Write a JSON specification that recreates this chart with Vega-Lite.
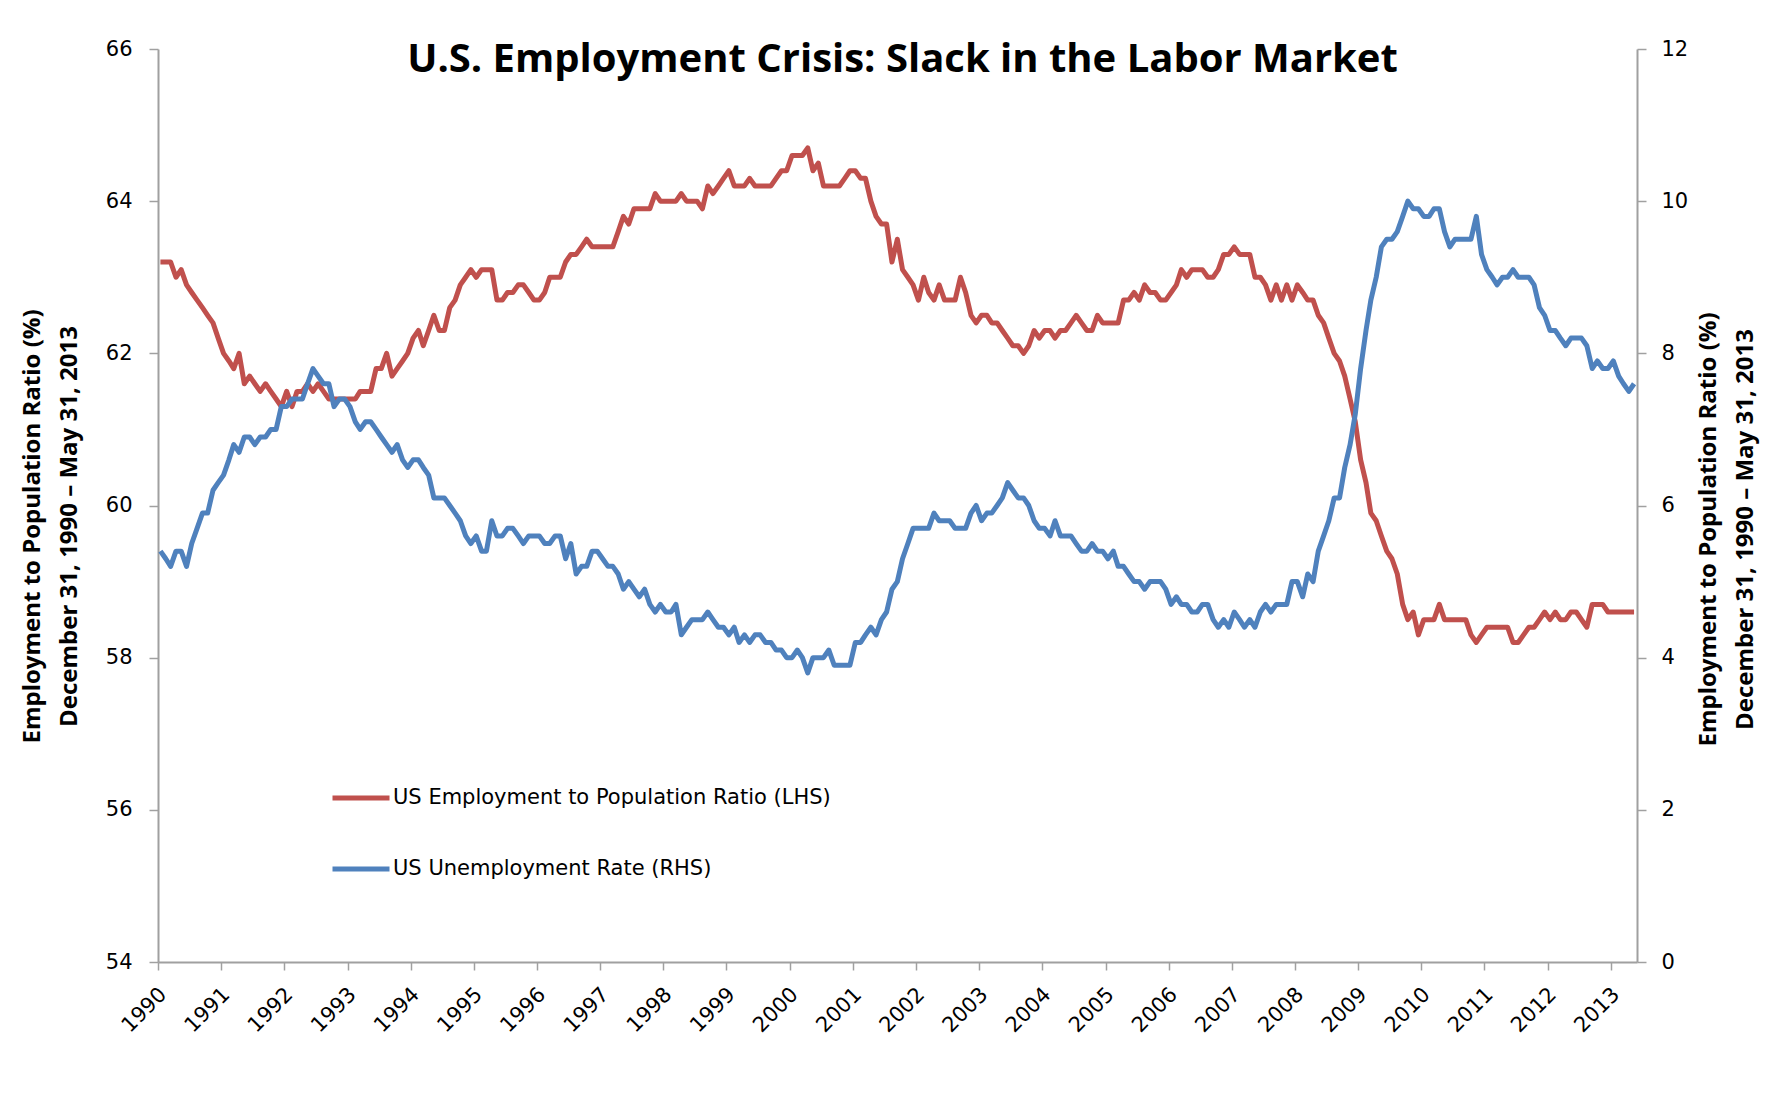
{
  "$schema": "https://vega.github.io/schema/vega-lite/v6.json",
  "autosize": {"type": "none"},
  "width": 1479,
  "height": 913,
  "padding": {"left": 158, "top": 49, "right": 155, "bottom": 140},
  "background": "white",
  "config": {"view": {"stroke": null}, "font": "DejaVu Sans"},
  "title": {
    "text": "U.S. Employment Crisis: Slack in the Labor Market",
    "font": "Open Sans", "fontSize": 40, "fontWeight": "bold", "color": "#000000",
    "anchor": "middle", "frame": "group", "baseline": "middle", "offset": 0, "dy": 62, "dx": 5
  },
  "data": {"values": [
{"d":"1990-01-15","e":63.2,"u":5.4},{"d":"1990-02-15","e":63.2,"u":5.3},{"d":"1990-03-15","e":63.2,"u":5.2},{"d":"1990-04-15","e":63.0,"u":5.4},{"d":"1990-05-15","e":63.1,"u":5.4},{"d":"1990-06-15","e":62.9,"u":5.2},{"d":"1990-07-15","e":62.8,"u":5.5},{"d":"1990-08-15","e":62.7,"u":5.7},{"d":"1990-09-15","e":62.6,"u":5.9},{"d":"1990-10-15","e":62.5,"u":5.9},{"d":"1990-11-15","e":62.4,"u":6.2},{"d":"1990-12-15","e":62.2,"u":6.3},
{"d":"1991-01-15","e":62.0,"u":6.4},{"d":"1991-02-15","e":61.9,"u":6.6},{"d":"1991-03-15","e":61.8,"u":6.8},{"d":"1991-04-15","e":62.0,"u":6.7},{"d":"1991-05-15","e":61.6,"u":6.9},{"d":"1991-06-15","e":61.7,"u":6.9},{"d":"1991-07-15","e":61.6,"u":6.8},{"d":"1991-08-15","e":61.5,"u":6.9},{"d":"1991-09-15","e":61.6,"u":6.9},{"d":"1991-10-15","e":61.5,"u":7.0},{"d":"1991-11-15","e":61.4,"u":7.0},{"d":"1991-12-15","e":61.3,"u":7.3},
{"d":"1992-01-15","e":61.5,"u":7.3},{"d":"1992-02-15","e":61.3,"u":7.4},{"d":"1992-03-15","e":61.5,"u":7.4},{"d":"1992-04-15","e":61.5,"u":7.4},{"d":"1992-05-15","e":61.6,"u":7.6},{"d":"1992-06-15","e":61.5,"u":7.8},{"d":"1992-07-15","e":61.6,"u":7.7},{"d":"1992-08-15","e":61.5,"u":7.6},{"d":"1992-09-15","e":61.4,"u":7.6},{"d":"1992-10-15","e":61.4,"u":7.3},{"d":"1992-11-15","e":61.4,"u":7.4},{"d":"1992-12-15","e":61.4,"u":7.4},
{"d":"1993-01-15","e":61.4,"u":7.3},{"d":"1993-02-15","e":61.4,"u":7.1},{"d":"1993-03-15","e":61.5,"u":7.0},{"d":"1993-04-15","e":61.5,"u":7.1},{"d":"1993-05-15","e":61.5,"u":7.1},{"d":"1993-06-15","e":61.8,"u":7.0},{"d":"1993-07-15","e":61.8,"u":6.9},{"d":"1993-08-15","e":62.0,"u":6.8},{"d":"1993-09-15","e":61.7,"u":6.7},{"d":"1993-10-15","e":61.8,"u":6.8},{"d":"1993-11-15","e":61.9,"u":6.6},{"d":"1993-12-15","e":62.0,"u":6.5},
{"d":"1994-01-15","e":62.2,"u":6.6},{"d":"1994-02-15","e":62.3,"u":6.6},{"d":"1994-03-15","e":62.1,"u":6.5},{"d":"1994-04-15","e":62.3,"u":6.4},{"d":"1994-05-15","e":62.5,"u":6.1},{"d":"1994-06-15","e":62.3,"u":6.1},{"d":"1994-07-15","e":62.3,"u":6.1},{"d":"1994-08-15","e":62.6,"u":6.0},{"d":"1994-09-15","e":62.7,"u":5.9},{"d":"1994-10-15","e":62.9,"u":5.8},{"d":"1994-11-15","e":63.0,"u":5.6},{"d":"1994-12-15","e":63.1,"u":5.5},
{"d":"1995-01-15","e":63.0,"u":5.6},{"d":"1995-02-15","e":63.1,"u":5.4},{"d":"1995-03-15","e":63.1,"u":5.4},{"d":"1995-04-15","e":63.1,"u":5.8},{"d":"1995-05-15","e":62.7,"u":5.6},{"d":"1995-06-15","e":62.7,"u":5.6},{"d":"1995-07-15","e":62.8,"u":5.7},{"d":"1995-08-15","e":62.8,"u":5.7},{"d":"1995-09-15","e":62.9,"u":5.6},{"d":"1995-10-15","e":62.9,"u":5.5},{"d":"1995-11-15","e":62.8,"u":5.6},{"d":"1995-12-15","e":62.7,"u":5.6},
{"d":"1996-01-15","e":62.7,"u":5.6},{"d":"1996-02-15","e":62.8,"u":5.5},{"d":"1996-03-15","e":63.0,"u":5.5},{"d":"1996-04-15","e":63.0,"u":5.6},{"d":"1996-05-15","e":63.0,"u":5.6},{"d":"1996-06-15","e":63.2,"u":5.3},{"d":"1996-07-15","e":63.3,"u":5.5},{"d":"1996-08-15","e":63.3,"u":5.1},{"d":"1996-09-15","e":63.4,"u":5.2},{"d":"1996-10-15","e":63.5,"u":5.2},{"d":"1996-11-15","e":63.4,"u":5.4},{"d":"1996-12-15","e":63.4,"u":5.4},
{"d":"1997-01-15","e":63.4,"u":5.3},{"d":"1997-02-15","e":63.4,"u":5.2},{"d":"1997-03-15","e":63.4,"u":5.2},{"d":"1997-04-15","e":63.6,"u":5.1},{"d":"1997-05-15","e":63.8,"u":4.9},{"d":"1997-06-15","e":63.7,"u":5.0},{"d":"1997-07-15","e":63.9,"u":4.9},{"d":"1997-08-15","e":63.9,"u":4.8},{"d":"1997-09-15","e":63.9,"u":4.9},{"d":"1997-10-15","e":63.9,"u":4.7},{"d":"1997-11-15","e":64.1,"u":4.6},{"d":"1997-12-15","e":64.0,"u":4.7},
{"d":"1998-01-15","e":64.0,"u":4.6},{"d":"1998-02-15","e":64.0,"u":4.6},{"d":"1998-03-15","e":64.0,"u":4.7},{"d":"1998-04-15","e":64.1,"u":4.3},{"d":"1998-05-15","e":64.0,"u":4.4},{"d":"1998-06-15","e":64.0,"u":4.5},{"d":"1998-07-15","e":64.0,"u":4.5},{"d":"1998-08-15","e":63.9,"u":4.5},{"d":"1998-09-15","e":64.2,"u":4.6},{"d":"1998-10-15","e":64.1,"u":4.5},{"d":"1998-11-15","e":64.2,"u":4.4},{"d":"1998-12-15","e":64.3,"u":4.4},
{"d":"1999-01-15","e":64.4,"u":4.3},{"d":"1999-02-15","e":64.2,"u":4.4},{"d":"1999-03-15","e":64.2,"u":4.2},{"d":"1999-04-15","e":64.2,"u":4.3},{"d":"1999-05-15","e":64.3,"u":4.2},{"d":"1999-06-15","e":64.2,"u":4.3},{"d":"1999-07-15","e":64.2,"u":4.3},{"d":"1999-08-15","e":64.2,"u":4.2},{"d":"1999-09-15","e":64.2,"u":4.2},{"d":"1999-10-15","e":64.3,"u":4.1},{"d":"1999-11-15","e":64.4,"u":4.1},{"d":"1999-12-15","e":64.4,"u":4.0},
{"d":"2000-01-15","e":64.6,"u":4.0},{"d":"2000-02-15","e":64.6,"u":4.1},{"d":"2000-03-15","e":64.6,"u":4.0},{"d":"2000-04-15","e":64.7,"u":3.8},{"d":"2000-05-15","e":64.4,"u":4.0},{"d":"2000-06-15","e":64.5,"u":4.0},{"d":"2000-07-15","e":64.2,"u":4.0},{"d":"2000-08-15","e":64.2,"u":4.1},{"d":"2000-09-15","e":64.2,"u":3.9},{"d":"2000-10-15","e":64.2,"u":3.9},{"d":"2000-11-15","e":64.3,"u":3.9},{"d":"2000-12-15","e":64.4,"u":3.9},
{"d":"2001-01-15","e":64.4,"u":4.2},{"d":"2001-02-15","e":64.3,"u":4.2},{"d":"2001-03-15","e":64.3,"u":4.3},{"d":"2001-04-15","e":64.0,"u":4.4},{"d":"2001-05-15","e":63.8,"u":4.3},{"d":"2001-06-15","e":63.7,"u":4.5},{"d":"2001-07-15","e":63.7,"u":4.6},{"d":"2001-08-15","e":63.2,"u":4.9},{"d":"2001-09-15","e":63.5,"u":5.0},{"d":"2001-10-15","e":63.1,"u":5.3},{"d":"2001-11-15","e":63.0,"u":5.5},{"d":"2001-12-15","e":62.9,"u":5.7},
{"d":"2002-01-15","e":62.7,"u":5.7},{"d":"2002-02-15","e":63.0,"u":5.7},{"d":"2002-03-15","e":62.8,"u":5.7},{"d":"2002-04-15","e":62.7,"u":5.9},{"d":"2002-05-15","e":62.9,"u":5.8},{"d":"2002-06-15","e":62.7,"u":5.8},{"d":"2002-07-15","e":62.7,"u":5.8},{"d":"2002-08-15","e":62.7,"u":5.7},{"d":"2002-09-15","e":63.0,"u":5.7},{"d":"2002-10-15","e":62.8,"u":5.7},{"d":"2002-11-15","e":62.5,"u":5.9},{"d":"2002-12-15","e":62.4,"u":6.0},
{"d":"2003-01-15","e":62.5,"u":5.8},{"d":"2003-02-15","e":62.5,"u":5.9},{"d":"2003-03-15","e":62.4,"u":5.9},{"d":"2003-04-15","e":62.4,"u":6.0},{"d":"2003-05-15","e":62.3,"u":6.1},{"d":"2003-06-15","e":62.2,"u":6.3},{"d":"2003-07-15","e":62.1,"u":6.2},{"d":"2003-08-15","e":62.1,"u":6.1},{"d":"2003-09-15","e":62.0,"u":6.1},{"d":"2003-10-15","e":62.1,"u":6.0},{"d":"2003-11-15","e":62.3,"u":5.8},{"d":"2003-12-15","e":62.2,"u":5.7},
{"d":"2004-01-15","e":62.3,"u":5.7},{"d":"2004-02-15","e":62.3,"u":5.6},{"d":"2004-03-15","e":62.2,"u":5.8},{"d":"2004-04-15","e":62.3,"u":5.6},{"d":"2004-05-15","e":62.3,"u":5.6},{"d":"2004-06-15","e":62.4,"u":5.6},{"d":"2004-07-15","e":62.5,"u":5.5},{"d":"2004-08-15","e":62.4,"u":5.4},{"d":"2004-09-15","e":62.3,"u":5.4},{"d":"2004-10-15","e":62.3,"u":5.5},{"d":"2004-11-15","e":62.5,"u":5.4},{"d":"2004-12-15","e":62.4,"u":5.4},
{"d":"2005-01-15","e":62.4,"u":5.3},{"d":"2005-02-15","e":62.4,"u":5.4},{"d":"2005-03-15","e":62.4,"u":5.2},{"d":"2005-04-15","e":62.7,"u":5.2},{"d":"2005-05-15","e":62.7,"u":5.1},{"d":"2005-06-15","e":62.8,"u":5.0},{"d":"2005-07-15","e":62.7,"u":5.0},{"d":"2005-08-15","e":62.9,"u":4.9},{"d":"2005-09-15","e":62.8,"u":5.0},{"d":"2005-10-15","e":62.8,"u":5.0},{"d":"2005-11-15","e":62.7,"u":5.0},{"d":"2005-12-15","e":62.7,"u":4.9},
{"d":"2006-01-15","e":62.8,"u":4.7},{"d":"2006-02-15","e":62.9,"u":4.8},{"d":"2006-03-15","e":63.1,"u":4.7},{"d":"2006-04-15","e":63.0,"u":4.7},{"d":"2006-05-15","e":63.1,"u":4.6},{"d":"2006-06-15","e":63.1,"u":4.6},{"d":"2006-07-15","e":63.1,"u":4.7},{"d":"2006-08-15","e":63.0,"u":4.7},{"d":"2006-09-15","e":63.0,"u":4.5},{"d":"2006-10-15","e":63.1,"u":4.4},{"d":"2006-11-15","e":63.3,"u":4.5},{"d":"2006-12-15","e":63.3,"u":4.4},
{"d":"2007-01-15","e":63.4,"u":4.6},{"d":"2007-02-15","e":63.3,"u":4.5},{"d":"2007-03-15","e":63.3,"u":4.4},{"d":"2007-04-15","e":63.3,"u":4.5},{"d":"2007-05-15","e":63.0,"u":4.4},{"d":"2007-06-15","e":63.0,"u":4.6},{"d":"2007-07-15","e":62.9,"u":4.7},{"d":"2007-08-15","e":62.7,"u":4.6},{"d":"2007-09-15","e":62.9,"u":4.7},{"d":"2007-10-15","e":62.7,"u":4.7},{"d":"2007-11-15","e":62.9,"u":4.7},{"d":"2007-12-15","e":62.7,"u":5.0},
{"d":"2008-01-15","e":62.9,"u":5.0},{"d":"2008-02-15","e":62.8,"u":4.8},{"d":"2008-03-15","e":62.7,"u":5.1},{"d":"2008-04-15","e":62.7,"u":5.0},{"d":"2008-05-15","e":62.5,"u":5.4},{"d":"2008-06-15","e":62.4,"u":5.6},{"d":"2008-07-15","e":62.2,"u":5.8},{"d":"2008-08-15","e":62.0,"u":6.1},{"d":"2008-09-15","e":61.9,"u":6.1},{"d":"2008-10-15","e":61.7,"u":6.5},{"d":"2008-11-15","e":61.4,"u":6.8},{"d":"2008-12-15","e":61.1,"u":7.2},
{"d":"2009-01-15","e":60.6,"u":7.8},{"d":"2009-02-15","e":60.3,"u":8.3},{"d":"2009-03-15","e":59.9,"u":8.7},{"d":"2009-04-15","e":59.8,"u":9.0},{"d":"2009-05-15","e":59.6,"u":9.4},{"d":"2009-06-15","e":59.4,"u":9.5},{"d":"2009-07-15","e":59.3,"u":9.5},{"d":"2009-08-15","e":59.1,"u":9.6},{"d":"2009-09-15","e":58.7,"u":9.8},{"d":"2009-10-15","e":58.5,"u":10.0},{"d":"2009-11-15","e":58.6,"u":9.9},{"d":"2009-12-15","e":58.3,"u":9.9},
{"d":"2010-01-15","e":58.5,"u":9.8},{"d":"2010-02-15","e":58.5,"u":9.8},{"d":"2010-03-15","e":58.5,"u":9.9},{"d":"2010-04-15","e":58.7,"u":9.9},{"d":"2010-05-15","e":58.5,"u":9.6},{"d":"2010-06-15","e":58.5,"u":9.4},{"d":"2010-07-15","e":58.5,"u":9.5},{"d":"2010-08-15","e":58.5,"u":9.5},{"d":"2010-09-15","e":58.5,"u":9.5},{"d":"2010-10-15","e":58.3,"u":9.5},{"d":"2010-11-15","e":58.2,"u":9.8},{"d":"2010-12-15","e":58.3,"u":9.3},
{"d":"2011-01-15","e":58.4,"u":9.1},{"d":"2011-02-15","e":58.4,"u":9.0},{"d":"2011-03-15","e":58.4,"u":8.9},{"d":"2011-04-15","e":58.4,"u":9.0},{"d":"2011-05-15","e":58.4,"u":9.0},{"d":"2011-06-15","e":58.2,"u":9.1},{"d":"2011-07-15","e":58.2,"u":9.0},{"d":"2011-08-15","e":58.3,"u":9.0},{"d":"2011-09-15","e":58.4,"u":9.0},{"d":"2011-10-15","e":58.4,"u":8.9},{"d":"2011-11-15","e":58.5,"u":8.6},{"d":"2011-12-15","e":58.6,"u":8.5},
{"d":"2012-01-15","e":58.5,"u":8.3},{"d":"2012-02-15","e":58.6,"u":8.3},{"d":"2012-03-15","e":58.5,"u":8.2},{"d":"2012-04-15","e":58.5,"u":8.1},{"d":"2012-05-15","e":58.6,"u":8.2},{"d":"2012-06-15","e":58.6,"u":8.2},{"d":"2012-07-15","e":58.5,"u":8.2},{"d":"2012-08-15","e":58.4,"u":8.1},{"d":"2012-09-15","e":58.7,"u":7.8},{"d":"2012-10-15","e":58.7,"u":7.9},{"d":"2012-11-15","e":58.7,"u":7.8},{"d":"2012-12-15","e":58.6,"u":7.8},
{"d":"2013-01-15","e":58.6,"u":7.9},{"d":"2013-02-15","e":58.6,"u":7.7},{"d":"2013-03-15","e":58.6,"u":7.6},{"d":"2013-04-15","e":58.6,"u":7.5},{"d":"2013-05-15","e":58.6,"u":7.6}
  ]},
  "encoding": {
    "x": {
      "field": "d", "type": "temporal",
      "scale": {"type": "utc", "nice": false, "domain": [{"year": 1990, "month": 1, "date": 1, "utc": true}, {"year": 2013, "month": 6, "date": 1, "utc": true}]},
      "axis": {
        "title": null, "format": "%Y", "tickCount": {"interval": "year", "step": 1},
        "labelAngle": -45, "labelAlign": "right", "labelBaseline": "middle", "labelPadding": 21, "labelOffset": 5,
        "labelFont": "DejaVu Sans", "labelFontSize": 21, "labelColor": "#000000", "labelOverlap": false, "labelFlush": false,
        "tickSize": 8, "tickColor": "#a0a0a0", "tickWidth": 1.5, "domainColor": "#a0a0a0", "domainWidth": 2, "grid": false
      }
    }
  },
  "layer": [
    {
      "mark": {"type": "line", "strokeWidth": 5, "strokeJoin": "round"},
      "encoding": {
        "y": {
          "field": "e", "type": "quantitative",
          "scale": {"domain": [54, 66], "nice": false, "zero": false},
          "axis": {
            "orient": "left", "values": [54, 56, 58, 60, 62, 64, 66], "grid": false,
            "tickSize": 9, "tickColor": "#a0a0a0", "tickWidth": 1.5, "domainColor": "#a0a0a0", "domainWidth": 2,
            "labelFont": "DejaVu Sans", "labelFontSize": 21, "labelColor": "#000000", "labelPadding": 17,
            "title": ["Employment to Population Ratio (%)", "December 31, 1990 \u2013 May 31, 2013"],
            "titleFont": "Open Sans", "titleFontSize": 24, "titleFontWeight": "bold", "titleColor": "#000000",
            "titleAngle": 270, "titleX": -119, "titleY": 477, "titleAlign": "center", "titleBaseline": "alphabetic", "titleLineHeight": 37
          }
        },
        "color": {
          "datum": "US Employment to Population Ratio (LHS)",
          "scale": {"domain": ["US Employment to Population Ratio (LHS)", "US Unemployment Rate (RHS)"], "range": ["#C0504D", "#4F81BD"]},
          "legend": {
            "orient": "none", "legendX": 172, "legendY": 718, "title": null, "padding": 0,
            "symbolType": "stroke", "symbolSize": 3249, "symbolStrokeWidth": 5,
            "labelFont": "DejaVu Sans", "labelFontSize": 21, "labelColor": "#000000", "labelOffset": 1, "labelLimit": 800, "rowPadding": 30
          }
        }
      }
    },
    {
      "mark": {"type": "line", "strokeWidth": 5, "strokeJoin": "round"},
      "encoding": {
        "y": {
          "field": "u", "type": "quantitative",
          "scale": {"domain": [0, 12], "nice": false},
          "axis": {
            "orient": "right", "values": [0, 2, 4, 6, 8, 10, 12], "grid": false,
            "tickSize": 9, "tickColor": "#a0a0a0", "tickWidth": 1.5, "domainColor": "#a0a0a0", "domainWidth": 2,
            "labelFont": "DejaVu Sans", "labelFontSize": 21, "labelColor": "#000000", "labelPadding": 15,
            "title": ["Employment to Population Ratio (%)", "December 31, 1990 \u2013 May 31, 2013"],
            "titleFont": "Open Sans", "titleFontSize": 24, "titleFontWeight": "bold", "titleColor": "#000000",
            "titleAngle": 270, "titleX": 78, "titleY": 480, "titleAlign": "center", "titleBaseline": "alphabetic", "titleLineHeight": 37
          }
        },
        "color": {"datum": "US Unemployment Rate (RHS)"}
      }
    }
  ],
  "resolve": {"scale": {"y": "independent"}}
}
